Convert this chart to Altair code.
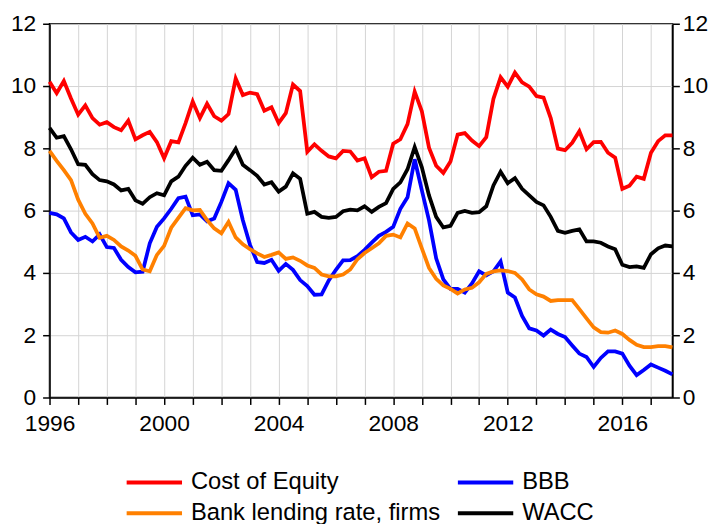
import altair as alt
import pandas as pd

start_year = 1996
n_quarters = 88

cost_of_equity = [10.14, 9.77, 10.16, 9.60, 9.08, 9.38, 8.97, 8.76, 8.84, 8.68, 8.58, 8.89, 8.29, 8.42, 8.53, 8.20,
                  7.68, 8.23, 8.19, 8.81, 9.50, 8.97, 9.43, 9.03, 8.89, 9.10, 10.24, 9.71, 9.79, 9.74, 9.21, 9.32,
                  8.81, 9.13, 10.05, 9.84, 7.89, 8.13, 7.92, 7.74, 7.68, 7.92, 7.90, 7.61, 7.68, 7.07, 7.25, 7.28,
                  8.15, 8.29, 8.78, 9.82, 9.19, 8.02, 7.44, 7.21, 7.58, 8.44, 8.49, 8.25, 8.07, 8.36, 9.59, 10.28,
                  9.98, 10.43, 10.12, 9.98, 9.68, 9.63, 8.97, 7.99, 7.94, 8.18, 8.55, 7.97, 8.20, 8.21, 7.86, 7.70,
                  6.70, 6.80, 7.09, 7.02, 7.86, 8.23, 8.42, 8.42]

bbb = [5.93, 5.88, 5.75, 5.30, 5.06, 5.16, 5.01, 5.24, 4.83, 4.80, 4.42, 4.19, 4.02, 4.04, 4.95, 5.48,
       5.75, 6.06, 6.40, 6.45, 5.85, 5.88, 5.66, 5.75, 6.28, 6.88, 6.67, 5.69, 4.90, 4.35, 4.32, 4.42,
       4.07, 4.29, 4.10, 3.77, 3.58, 3.30, 3.31, 3.76, 4.10, 4.40, 4.41, 4.54, 4.74, 4.97, 5.19, 5.32,
       5.48, 6.06, 6.43, 7.65, 6.65, 5.69, 4.47, 3.79, 3.49, 3.49, 3.37, 3.66, 4.05, 3.92, 4.05, 4.37,
       3.37, 3.21, 2.62, 2.22, 2.15, 1.99, 2.18, 2.04, 1.94, 1.67, 1.41, 1.30, 0.98, 1.27, 1.48, 1.48,
       1.41, 1.02, 0.72, 0.88, 1.06, 0.96, 0.86, 0.74]

bank_lending = [7.92, 7.60, 7.30, 6.98, 6.35, 5.90, 5.59, 5.13, 5.19, 5.06, 4.85, 4.72, 4.55, 4.11, 4.05, 4.58,
                4.87, 5.45, 5.77, 6.08, 6.01, 6.02, 5.70, 5.43, 5.27, 5.64, 5.14, 4.92, 4.76, 4.63, 4.51, 4.58,
                4.66, 4.45, 4.50, 4.39, 4.24, 4.16, 3.95, 3.89, 3.89, 3.95, 4.11, 4.44, 4.64, 4.79, 4.95, 5.19,
                5.23, 5.14, 5.59, 5.43, 4.79, 4.16, 3.81, 3.60, 3.49, 3.34, 3.47, 3.52, 3.70, 3.97, 4.05, 4.08,
                4.06, 4.00, 3.79, 3.47, 3.31, 3.24, 3.10, 3.13, 3.13, 3.13, 2.84, 2.54, 2.25, 2.10, 2.08, 2.15,
                2.04, 1.85, 1.69, 1.62, 1.62, 1.65, 1.65, 1.61]

wacc = [8.66, 8.34, 8.39, 7.97, 7.49, 7.47, 7.17, 6.98, 6.94, 6.84, 6.65, 6.70, 6.33, 6.22, 6.43, 6.56,
        6.49, 6.94, 7.09, 7.44, 7.70, 7.47, 7.57, 7.30, 7.28, 7.62, 7.99, 7.47, 7.30, 7.12, 6.84, 6.91,
        6.61, 6.77, 7.20, 7.02, 5.90, 5.96, 5.80, 5.77, 5.80, 5.98, 6.03, 6.01, 6.14, 5.96, 6.12, 6.24,
        6.70, 6.91, 7.33, 8.04, 7.39, 6.49, 5.80, 5.46, 5.51, 5.93, 5.99, 5.93, 5.95, 6.14, 6.81, 7.25,
        6.88, 7.04, 6.70, 6.49, 6.28, 6.17, 5.80, 5.35, 5.29, 5.35, 5.40, 5.01, 5.01, 4.97, 4.85, 4.76,
        4.26, 4.19, 4.21, 4.16, 4.60, 4.79, 4.88, 4.85]

series_names = ["Cost of Equity", "BBB", "Bank lending rate, firms", "WACC"]
series_values = [cost_of_equity, bbb, bank_lending, wacc]
series_colors = ["#ff0000", "#0000ff", "#ff8000", "#000000"]
year_ticks = list(range(1996, 2018))
y_ticks = [0, 2, 4, 6, 8, 10, 12]

rows = []
for name, vals in zip(series_names, series_values):
    for i, v in enumerate(vals):
        rows.append({"t": start_year + i / 4, "value": v, "series": name})
df = pd.DataFrame(rows)

FONT = "Liberation Sans"

x_scale = alt.Scale(domain=[1996, 2017.75], nice=False, zero=False)
x_axis = alt.Axis(values=year_ticks, format="d", labelExpr="datum.value % 4 == 0 ? datum.label : ''",
                  labelOverlap=False, labelFlush=False, title=None, tickSize=7,
                  labelPadding=8, grid=True)
y_scale = alt.Scale(domain=[0, 12], nice=False, zero=True)

lines = alt.Chart(df).mark_line(strokeWidth=3.8).encode(
    x=alt.X("t:Q", scale=x_scale, axis=x_axis),
    y=alt.Y("value:Q", scale=y_scale,
            axis=alt.Axis(values=y_ticks, title=None, orient="left", tickSize=7, labelPadding=7, grid=True)),
    color=alt.Color("series:N", scale=alt.Scale(domain=series_names, range=series_colors),
                    legend=alt.Legend(title=None, orient="none", legendX=94, legendY=452, columns=2,
                                      direction="horizontal",
                                      symbolType="M-4,0H4", symbolSize=196, symbolStrokeWidth=4,
                                      labelFontSize=24, labelFont=FONT, labelColor="black", labelLimit=400,
                                      labelOffset=25, columnPadding=9, rowPadding=7, padding=0)),
)

right = alt.Chart(df).mark_point(opacity=0).encode(
    x=alt.X("t:Q", scale=x_scale, axis=x_axis),
    y=alt.Y("value:Q", scale=y_scale,
            axis=alt.Axis(values=y_ticks, title=None, orient="right", tickSize=7, labelPadding=3, grid=False)),
)

chart = alt.layer(lines, right).resolve_axis(y="independent").properties(
    width=630, height=378,
    autosize=alt.AutoSizeParams(type="none"),
    padding={"left": 42, "top": 13, "right": 39, "bottom": 125},
).configure_view(stroke="black", strokeWidth=1.5).configure_axis(
    labelFont=FONT, labelFontSize=23, labelColor="black",
    domainColor="black", domainWidth=1.5, tickColor="black", tickWidth=1.5,
    gridColor="#d3d3d3", gridWidth=1,
)

chart.save("out.html", embed_options={"renderer": "svg", "actions": False})
